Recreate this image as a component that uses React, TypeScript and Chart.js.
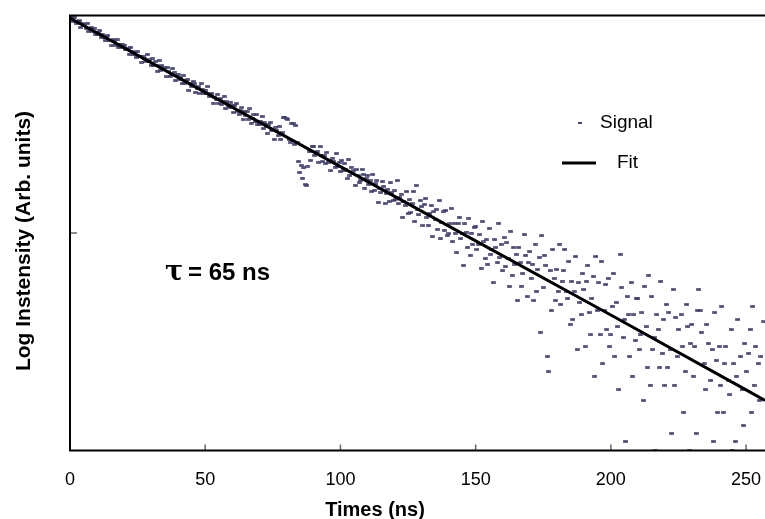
import { useEffect, useRef } from 'react';
import { Chart, registerables } from 'chart.js';

Chart.register(...registerables);

// ---- data ----
const TIME_STEP_NS = 0.5; // sampling interval of the signal (ns)
// photon counts per 0.5 ns bin, t = 0 ... 257 ns
const SIGNAL_COUNTS = [
  983, 940, 977, 984, 937, 917, 933, 946, 880, 921, 898, 913, 871, 923, 844, 866, 881, 841, 875, 821,
  820, 832, 853, 793, 816, 796, 764, 802, 805, 767, 771, 725, 775, 757, 731, 772, 712, 736, 716, 736,
  731, 696, 698, 705, 664, 716, 682, 659, 676, 644, 682, 647, 647, 611, 651, 637, 616, 662, 613, 625,
  589, 631, 587, 615, 588, 555, 623, 560, 590, 564, 574, 522, 577, 552, 524, 533, 569, 549, 501, 532,
  537, 510, 518, 487, 532, 486, 500, 507, 453, 486, 473, 498, 485, 442, 461, 470, 440, 485, 456, 436,
  454, 437, 471, 423, 434, 439, 396, 419, 411, 435, 394, 415, 390, 403, 426, 372, 401, 386, 377, 400,
  385, 358, 385, 393, 362, 351, 365, 376, 332, 362, 348, 361, 334, 372, 320, 337, 349, 324, 349, 314,
  316, 325, 343, 302, 321, 308, 288, 316, 321, 295, 300, 270, 307, 296, 280, 309, 270, 289, 338, 341,
  336, 333, 270, 262, 320, 318, 256, 312, 262, 213, 190, 205, 179, 199, 167, 166, 203, 236, 216, 251,
  249, 228, 231, 238, 212, 249, 227, 213, 228, 208, 235, 212, 215, 193, 221, 214, 201, 232, 203, 211,
  192, 216, 193, 209, 196, 178, 217, 183, 201, 187, 193, 166, 196, 184, 170, 175, 196, 186, 161, 179,
  184, 167, 174, 155, 186, 157, 168, 174, 138, 161, 154, 172, 164, 137, 152, 159, 140, 170, 153, 141,
  156, 143, 174, 136, 146, 151, 118, 139, 134, 155, 123, 142, 124, 136, 155, 113, 165, 128, 121, 141,
  132, 108, 135, 144, 118, 108, 123, 134, 96, 125, 115, 128, 104, 141, 94, 112, 125, 103, 127, 97,
  99, 110, 130, 91, 111, 100, 81, 111, 118, 94, 100, 71, 110, 101, 86, 117, 79, 100, 89, 106,
  107, 84, 89, 98, 69, 113, 91, 76, 93, 72, 105, 80, 84, 59, 93, 86, 73, 111, 77, 89,
  67, 95, 70, 90, 76, 57, 102, 64, 86, 72, 80, 49, 86, 73, 57, 65, 98, 79, 51, 73,
  82, 62, 72, 49, 89, 54, 68, 77, 35, 97, 56, 79, 71, 27, 23, 67, 44, 84, 62, 49,
  68, 54, 89, 47, 60, 67, 84, 54, 50, 74, 38, 60, 40, 54, 78, 29, 59, 48, 42, 65,
  55, 30, 60, 71, 43, 34, 50, 63, 22, 78, 44, 59, 34, 74, 25, 44, 58, 36, 62, 30,
  34, 46, 65, 27, 48, 37, 19, 80, 56, 33, 40, 11, 51, 42, 27, 59, 22, 42, 32, 50,
  50, 29, 34, 43, 17, 57, 37, 24, 64, 20, 51, 29, 33, 10, 42, 36, 24, 60, 28, 40,
  20, 47, 24, 43, 29, 12, 55, 20, 41, 27, 36, 7, 42, 30, 15, 23, 47, 37, 10, 31,
  38, 22, 30, 12, 44, 55, 44, 35, 1, 25, 19, 38, 31, 5, 21, 29, 11, 43, 26, 15,
  30, 20, 46, 15, 25, 30, 2, 21, 18, 36, 10, 25, 11, 22, 40, 5, 27, 19, 13, 31,
  23, 6, 28, 36, 15, 46, 20, 30, 2, 25, 17, 27, 9, 39, 3,
];
const FIT_TIMES = [0, 50, 100, 150, 200, 250, 257];
const FIT_COUNTS = [974, 443, 202, 92, 42, 19, 17];
const X_TICKS = [0, 50, 100, 150, 200, 250];
const Y_TICKS = [100];
const X_MIN = 0;
const X_MAX = 257;
const Y_MIN = 10;
const Y_MAX = 1000;
const SERIES_LABELS = ['Signal', 'Fit'];
const X_TITLE = 'Times (ns)';
const Y_TITLE = 'Log Instensity (Arb. units)';
const TAU_SYMBOL = 'τ';
const TAU_TEXT = '= 65 ns';

const POINT_COLOR = '#444270';
const SANS = '"Liberation Sans", Arial, sans-serif';

function makeDash(): HTMLCanvasElement {
  const c = document.createElement('canvas');
  c.width = 5;
  c.height = 3;
  const g = c.getContext('2d') as CanvasRenderingContext2D;
  g.fillStyle = POINT_COLOR;
  g.globalAlpha = 0.6;
  g.fillRect(0, 0, 5, 3);
  g.globalAlpha = 1;
  g.fillRect(0.5, 0.5, 4, 2);
  return c;
}

const decorPlugin = {
  id: 'decor',
  afterDatasetsDraw(chart: any) {
    const { ctx, chartArea: a, scales } = chart;
    ctx.save();
    // inward tick marks
    ctx.strokeStyle = '#666';
    ctx.lineWidth = 1.5;
    X_TICKS.forEach((v) => {
      if (v === X_MIN) return;
      const x = scales.x.getPixelForValue(v);
      ctx.beginPath();
      ctx.moveTo(x, a.bottom);
      ctx.lineTo(x, a.bottom - 6);
      ctx.stroke();
    });
    Y_TICKS.forEach((v) => {
      const y = scales.y.getPixelForValue(v);
      ctx.beginPath();
      ctx.moveTo(a.left, y);
      ctx.lineTo(a.left + 7, y);
      ctx.stroke();
    });
    // frame: top, left, bottom
    ctx.strokeStyle = '#000';
    ctx.lineWidth = 2;
    ctx.beginPath();
    ctx.moveTo(a.right + 2, a.top);
    ctx.lineTo(a.left, a.top);
    ctx.lineTo(a.left, a.bottom);
    ctx.lineTo(a.right + 2, a.bottom);
    ctx.stroke();

    // legend
    const ds = chart.data.datasets;
    ctx.textBaseline = 'middle';
    ctx.textAlign = 'left';
    ctx.font = `19px ${SANS}`;
    ctx.fillStyle = POINT_COLOR;
    ctx.fillRect(578, 122, 4, 2);
    ctx.fillStyle = '#000';
    ctx.fillText(ds[1].label, 600, 123);
    ctx.strokeStyle = '#000';
    ctx.lineWidth = 3;
    ctx.beginPath();
    ctx.moveTo(562, 163);
    ctx.lineTo(596, 163);
    ctx.stroke();
    ctx.fillText(ds[0].label, 617, 163);

    // annotation
    ctx.textBaseline = 'alphabetic';
    ctx.font = `bold 27px "DejaVu Serif", serif`;
    ctx.fillText(TAU_SYMBOL, 165, 280);
    ctx.font = `bold 24px ${SANS}`;
    ctx.fillText(TAU_TEXT, 188, 280);

    // axis titles
    ctx.textAlign = 'center';
    ctx.textBaseline = 'middle';
    ctx.font = `bold 20px ${SANS}`;
    ctx.fillText(X_TITLE, 375, 510);
    ctx.save();
    ctx.translate(24, 241);
    ctx.rotate(-Math.PI / 2);
    ctx.font = `bold 21px ${SANS}`;
    ctx.fillText(Y_TITLE, 0, 0);
    ctx.restore();
    ctx.restore();
  },
};

export default function App() {
  const ref = useRef<HTMLCanvasElement>(null);
  useEffect(() => {
    const signal = SIGNAL_COUNTS.map((c, i) => ({ x: i * TIME_STEP_NS, y: c }));
    const fit = FIT_TIMES.map((t, i) => ({ x: t, y: FIT_COUNTS[i] }));
    const dash = makeDash();
    const chart = new Chart(ref.current as HTMLCanvasElement, {
      type: 'scatter',
      data: {
        datasets: [
          {
            label: SERIES_LABELS[1],
            data: fit,
            showLine: true,
            borderColor: '#000',
            backgroundColor: '#000',
            borderWidth: 3,
            pointRadius: 0,
            order: 0,
          },
          {
            label: SERIES_LABELS[0],
            data: signal,
            pointStyle: dash,
            pointRadius: 3,
            borderColor: POINT_COLOR,
            backgroundColor: POINT_COLOR,
            order: 1,
          },
        ],
      } as any,
      options: {
        animation: false,
        responsive: false,
        events: [],
        layout: { padding: { top: 15.5, right: 0, left: 0, bottom: 0 } },
        plugins: { legend: { display: false }, tooltip: { enabled: false } },
        scales: {
          x: {
            type: 'linear',
            min: X_MIN,
            max: X_MAX,
            afterBuildTicks: (s: any) => {
              s.ticks = X_TICKS.map((v) => ({ value: v }));
            },
            afterFit: (s: any) => {
              s.height = 68.5;
              s.paddingRight = 0;
              s.paddingLeft = 0;
            },
            grid: { display: false, drawTicks: false },
            border: { display: false },
            ticks: {
              padding: 19,
              color: '#000',
              font: { size: 18, family: SANS },
              maxRotation: 0,
              autoSkip: false,
            },
          },
          y: {
            type: 'logarithmic',
            min: Y_MIN,
            max: Y_MAX,
            afterFit: (s: any) => {
              s.width = 70;
            },
            grid: { display: false, drawTicks: false },
            border: { display: false },
            ticks: { display: false },
          },
        },
      } as any,
      plugins: [decorPlugin],
    });
    return () => chart.destroy();
  }, []);
  return (
    <div style={{ position: 'absolute', left: 0, top: 0, width: 765, height: 519, overflow: 'hidden', background: '#fff' }}>
      <canvas ref={ref} width={770} height={519} style={{ display: 'block' }} />
    </div>
  );
}
